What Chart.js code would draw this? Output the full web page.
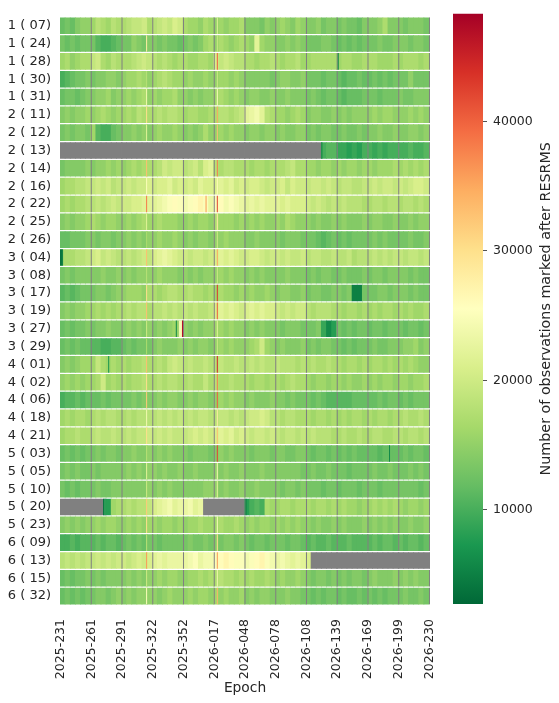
<!DOCTYPE html>
<html>
<head>
<meta charset="utf-8">
<script src="https://cdn.jsdelivr.net/npm/chart.js@4.4.1/dist/chart.umd.min.js"></script>
<style>
  html, body { margin: 0; padding: 0; background: #fff; }
  #wrap { position: relative; width: 559px; height: 703px; }
  #heat { position: absolute; left: 0; top: 0; }
  #cbar { position: absolute; left: 440px; top: 0; }
</style>
</head>
<body>
<div id="wrap">
  <canvas id="heat" width="440" height="703"></canvas>
  <canvas id="cbar" width="119" height="703"></canvas>
</div>
<script>
const SATELLITES = [
  '1 ( 07)', '1 ( 24)', '1 ( 28)', '1 ( 30)', '1 ( 31)', '2 ( 11)', '2 ( 12)', '2 ( 13)',
  '2 ( 14)', '2 ( 16)', '2 ( 22)', '2 ( 25)', '2 ( 26)', '3 ( 04)', '3 ( 08)', '3 ( 17)',
  '3 ( 19)', '3 ( 27)', '3 ( 29)', '4 ( 01)', '4 ( 02)', '4 ( 06)', '4 ( 18)', '4 ( 21)',
  '5 ( 03)', '5 ( 05)', '5 ( 10)', '5 ( 20)', '5 ( 23)', '6 ( 09)', '6 ( 13)', '6 ( 15)', '6 ( 32)'
];

// epoch tick labels, one every 30 epoch columns (361 columns in total)
const TICK_LABELS = ['2025-231', '2025-261', '2025-291', '2025-322', '2025-352', '2026-017',
  '2026-048', '2026-078', '2026-108', '2026-139', '2026-169', '2026-199', '2026-230'];
const TICK_COLS = [0, 30, 60, 90, 120, 150, 180, 210, 240, 270, 300, 330, 360];

// values, one char per 5 epoch columns, in thousands
// (see LEVELS), '.' = no data. Groups of 6 chars = one tick interval.
const BIN = 5;
const LEVELS = '0123456789abcdefghijklmnopqrstuvwxyzABCDEFGHIJKLMN';
const BINNED = [
  'cdceff gihgih hijjkh ijkjlk hggfhg fgfggh eeedfe fgfegf eefdee deddce eefhee edeeed',
  'dcdcdd dbaabc ddfede ededdc dedegh fhgfgh gfmgff eefefe dddeed cdcdcd ddedde eedeed',
  'ghfghh jkhgih hhijkj ihihgh hgghhg ljkjii hhghhi hghhig ghhhhh ghhggh hhgggh ghhhgh',
  'abcdde deeffe fgghgf ghihgg fgffgf fggfgf eeeeed effeef dddcdd cbccdc cdcdcd ddfddd',
  'cddcde effgef fgfghf gfgghf fefeff ghgfgf effeef eefeee dedcdd cbcccd ddcddd eddeee',
  'efeffg fghgfg ghgihh hihiih ghhggh hiihij mnomih ggfghg effeef efefff fgfggf ffgfgf',
  'dedeed gbaacd eefefe fgffgf efefhf fgfgff effeff efeeff dedeed dedded eefeef eeffef',
  '...... ...... ...... ...... ...... ...... ...... ...... ...abb 99898a a9a9aa aabaab',
  'deeeef effgfg fghghh hikjkk ijkilm ihiihh hghhgh hhijhh ggfggf gfggfg gfgggh ghghgh',
  'ghhiij jkjkij jkjkkl kllmkl klkmll lmlmkl kllkjk kljlkk jkkjkj ijjiij jkjkkj kjkllk',
  'ghghhi ijijkj kkllmm mnopqp opqrpn pqopon mnmnmm mlmlll kjkjij ijiiih hiihii hiihih',
  'efeffg hgfggf fgfghg ghgggf fgfggf hgggfg fgfgff gfhgff fefeef efeeef effeef eefeff',
  'ccddde edeede efefef fgffgf efeffe ffgfff eefeee edeeed ddcbcd cdcddd dededd ddedde',
  'hhhiij kljkji ijijkj lmnmlk kjkkjk lmlmlk kllkjk kjkjjk ijjiij iijhii ijijij jijjij',
  'dedeee eefeef efefff fgfffe fefeff fgfgff efefee eefeee dedeed deddde deedee eededd',
  'bcbcdd deedef fgggfh hghiih hihhgh ghggfg fgffgf effeef deedde ede55d ddeede eededd',
  'efeffg ghghgh hihiih iijiji jijiij lmlmlk lmlmll kjkjkk ihiiih hghhgh ghghhg hghggh',
  'cdcdde deefee efefef efefgf fefeff ggfgff efefee edeeed dde968 dcdcdd cddcdd dcddcd',
  'cdcdcc bbaabb cdcddd efeeef efeffe fgfgff fghkgf efeeef dedeed dcdcdd deddee effgef',
  'efefgg gjhghg hghhih hihjkj ijiiji ijiiji ijijii jiiihi hihhih hghhgh ghhghg hghgff',
  'fgfgfg ghkghg hghhih hihiih hihhjh ihhihh hghhgh hghihh gfggfg gfgffg fgfggf ggfggh',
  'abbcbc ccdcdd ddedee efeffe efeffe fgfgff efeeef eededd dcdcbb bbbccc ccdcdd cdcddd',
  'ghghhg hihiih hihiii ijijij ijijji ijjiji jkklki ihiihh hghhgh ghghhg hghhgh hihhih',
  'ghhihh ijiiji ijijjk jkjkjj jklklk lmlmkl kjkkjk jijjij ijiiih hihhih hiihhi ihiihi',
  'cdcdcd dedeed eefeef efefee edeeed efefee edeeed eeddee dcddcd cdcdcc ccbccc cdcddc',
  'dededd edeeee efefef fefeef eefeee fefeef eeefee eeeeed dedded ddcddd dedded ddeded',
  'dcdcdd deddee eeeeef efefee eeeeff fefeef eefeee edeede dddcdd cdddcd ddcddd ddddcd',
  '...... ...8gh hihiij lmnomn nomn.. ...... 8abahg ghhghh hghhgh ghggfg ghghgh gfggfg',
  'efefef fgfggf fgfgfg gfggfg fgghgg ghgghg fgfggf gfgfgf fefeef efeeef efefef eefeef',
  'aababb bcbccb cdcdcd dcdddd dedded edeede dcddcd ddcddc bcbbcb bbcbbb bcbccb cbccbc',
  'ijijij jkjkjk kjklkl mnmnnn nopnoo pqrqpp opqrpo nonmnm l..... ...... ...... ......',
  'cdcdde dedeee efefef fgfggf fgghgh hihhgh ghgghg fgffgf edeede dedeed efeeef efefee',
  'cdcdcd deedef efefff fefgff fgfggf gfgffg efeffe eefeed dcdcdd cdccdc dcdcdd dedded'
];

// epoch columns without any data (drawn grey in every row)
const GAP_COLS = [30, 60, 90, 120, 150, 180, 210, 240, 270, 300, 330, 360];

// two single-epoch peaks seen in most rows
const STREAK_COLS = [84, 153];
const STREAK_84 = [20000, 28000, 19000, 18000, 24000, 30000, 22000, null, 33000, 25000, 38000,
  22000, 17000, 33000, 18000, 30000, 33000, 20000, 17000, 33000, 30000, 32000, 24000, 30000,
  18000, 22000, 20000, 32000, 30000, 18000, 36000, 20000, 25000];
const STREAK_153 = [22000, 20000, 40000, 20000, 25000, 35000, 33000, null, 38000, 26000, 42000,
  28000, 20000, 35000, 20000, 43000, 40000, 22000, 20000, 44000, 38000, 40000, 28000, 33000,
  42000, 24000, 22000, null, 25000, 30000, 36000, 24000, 34000];

// other single epochs: [row, column, value]
const SPOTS = [
  [2, 271, 6000], [7, 255, 5000], [10, 142, 36000], [13, 0, 4000], [13, 1, 4000], [13, 2, 5000],
  [17, 113, 6000], [17, 116, 25000], [17, 117, 26000], [17, 118, 25000], [17, 119, 47000],
  [19, 47, 7000], [24, 321, 6000], [27, 42, 4000], [27, 43, 8000], [27, 44, 8000], [27, 181, 5000]
];

const VMIN = 2725;
const VMAX = 48320;
const CBAR_TICKS = [10000, 20000, 30000, 40000];
const CBAR_TITLE = 'Number of observations marked after RESRMS';

const CMAP = ['#006837', '#1a9850', '#66bd63', '#a6d96a', '#d9ef8b', '#ffffbf',
  '#fee08b', '#fdae61', '#f46d43', '#d73027', '#a50026'];
const NAN_COLOR = '#808080';
const TXT = '#262626';
const FONT = '"DejaVu Sans", sans-serif';

Chart.defaults.font.family = FONT;
Chart.defaults.color = TXT;

const CMAP_RGB = CMAP.map(c => [1, 3, 5].map(i => parseInt(c.slice(i, i + 2), 16)));

function colorFor(v) {
  if (v == null) return NAN_COLOR;
  let t = (v - VMIN) / (VMAX - VMIN);
  t = Math.min(1, Math.max(0, t)) * (CMAP.length - 1);
  const i = Math.min(CMAP.length - 2, Math.floor(t));
  const f = t - i;
  const a = CMAP_RGB[i], b = CMAP_RGB[i + 1];
  const m = a.map((x, k) => Math.round(x + (b[k] - x) * f));
  return `rgb(${m[0]},${m[1]},${m[2]})`;
}

function cell(row, col0, col1, v) {
  return { x: [col0 - 0.5, col1 + 0.5], y: SATELLITES[row], v: v };
}

const rowSets = BINNED.map((s, r) => ({
  data: s.replace(/ /g, '').split('').map((ch, j) =>
    cell(r, j * BIN, j * BIN + BIN - 1, ch === '.' ? null : LEVELS.indexOf(ch) * 1000)),
  backgroundColor: c => colorFor(c.raw.v),
  inflateAmount: 0.4,
  barPercentage: 0.885
}));

const overlay = [];
SATELLITES.forEach((name, r) => {
  GAP_COLS.forEach(c => overlay.push(cell(r, c, c, null)));
  [STREAK_84, STREAK_153].forEach((vals, k) => {
    if (vals[r] != null) overlay.push(cell(r, STREAK_COLS[k], STREAK_COLS[k], vals[r]));
  });
});
SPOTS.forEach(([r, c, v]) => overlay.push(cell(r, c, c, v)));

new Chart(document.getElementById('heat'), {
  type: 'bar',
  data: {
    labels: SATELLITES,
    datasets: [{
      data: overlay,
      backgroundColor: c => colorFor(c.raw.v),
      inflateAmount: 0,
      barPercentage: 0.929,
      order: -1
    }].concat(rowSets)
  },
  options: {
    indexAxis: 'y',
    responsive: false,
    animation: false,
    events: [],
    datasets: { bar: { grouped: false, categoryPercentage: 1, borderWidth: 0 } },
    layout: { padding: { top: 6, right: 10, bottom: 0, left: 0 } },
    plugins: { legend: { display: false }, tooltip: { enabled: false } },
    scales: {
      x: {
        type: 'linear', min: -0.5, max: 360.5,
        afterBuildTicks: ax => { ax.ticks = TICK_COLS.map(v => ({ value: v })); },
        afterFit: ax => { ax.height = 98; ax.paddingLeft = 0; ax.paddingRight = 0; },
        grid: { display: false, drawTicks: false },
        border: { display: false },
        ticks: {
          autoSkip: false, minRotation: 90, maxRotation: 90, padding: 14,
          color: TXT, font: { size: 12.5 },
          callback: v => TICK_LABELS[TICK_COLS.indexOf(v)]
        },
        title: { display: true, text: 'Epoch', color: TXT, font: { size: 13.8 },
          padding: { top: 0, bottom: 6 } }
      },
      y: {
        type: 'category',
        afterFit: ax => { ax.width = 60; },
        grid: { display: false, drawTicks: false },
        border: { display: false },
        ticks: { autoSkip: false, padding: 9, color: TXT, font: { size: 13 } }
      }
    }
  }
});

const cbarTitle = {
  id: 'cbarTitle',
  afterDraw(chart) {
    const { ctx, chartArea } = chart;
    ctx.save();
    ctx.translate(106.5, (chartArea.top + chartArea.bottom) / 2);
    ctx.rotate(-Math.PI / 2);
    ctx.font = '14.3px ' + FONT;
    ctx.fillStyle = TXT;
    ctx.textAlign = 'center';
    ctx.textBaseline = 'middle';
    ctx.fillText(CBAR_TITLE, 0, 0);
    ctx.restore();
  }
};

new Chart(document.getElementById('cbar'), {
  type: 'bar',
  data: {
    labels: [''],
    datasets: [{
      data: [[VMIN, VMAX]],
      backgroundColor: c => {
        const area = c.chart.chartArea;
        if (!area) return null;
        const g = c.chart.ctx.createLinearGradient(0, area.bottom, 0, area.top);
        CMAP.forEach((col, i) => g.addColorStop(i / (CMAP.length - 1), col));
        return g;
      },
      categoryPercentage: 1,
      barPercentage: 1,
      borderWidth: 0,
      inflateAmount: 0
    }]
  },
  options: {
    responsive: false,
    animation: false,
    events: [],
    layout: { padding: { left: 13, top: 6.7, bottom: 99, right: 0 } },
    plugins: { legend: { display: false }, tooltip: { enabled: false } },
    scales: {
      x: { display: false },
      y: {
        position: 'right', min: VMIN, max: VMAX,
        afterBuildTicks: ax => { ax.ticks = CBAR_TICKS.map(v => ({ value: v })); },
        afterFit: ax => { ax.width = 76; },
        grid: { drawOnChartArea: false, drawTicks: true, tickLength: 4, color: TXT, lineWidth: 0.8 },
        border: { display: false },
        ticks: { padding: 6, color: TXT, font: { size: 12.5 }, callback: v => String(v) }
      }
    }
  },
  plugins: [cbarTitle]
});
</script>
</body>
</html>
